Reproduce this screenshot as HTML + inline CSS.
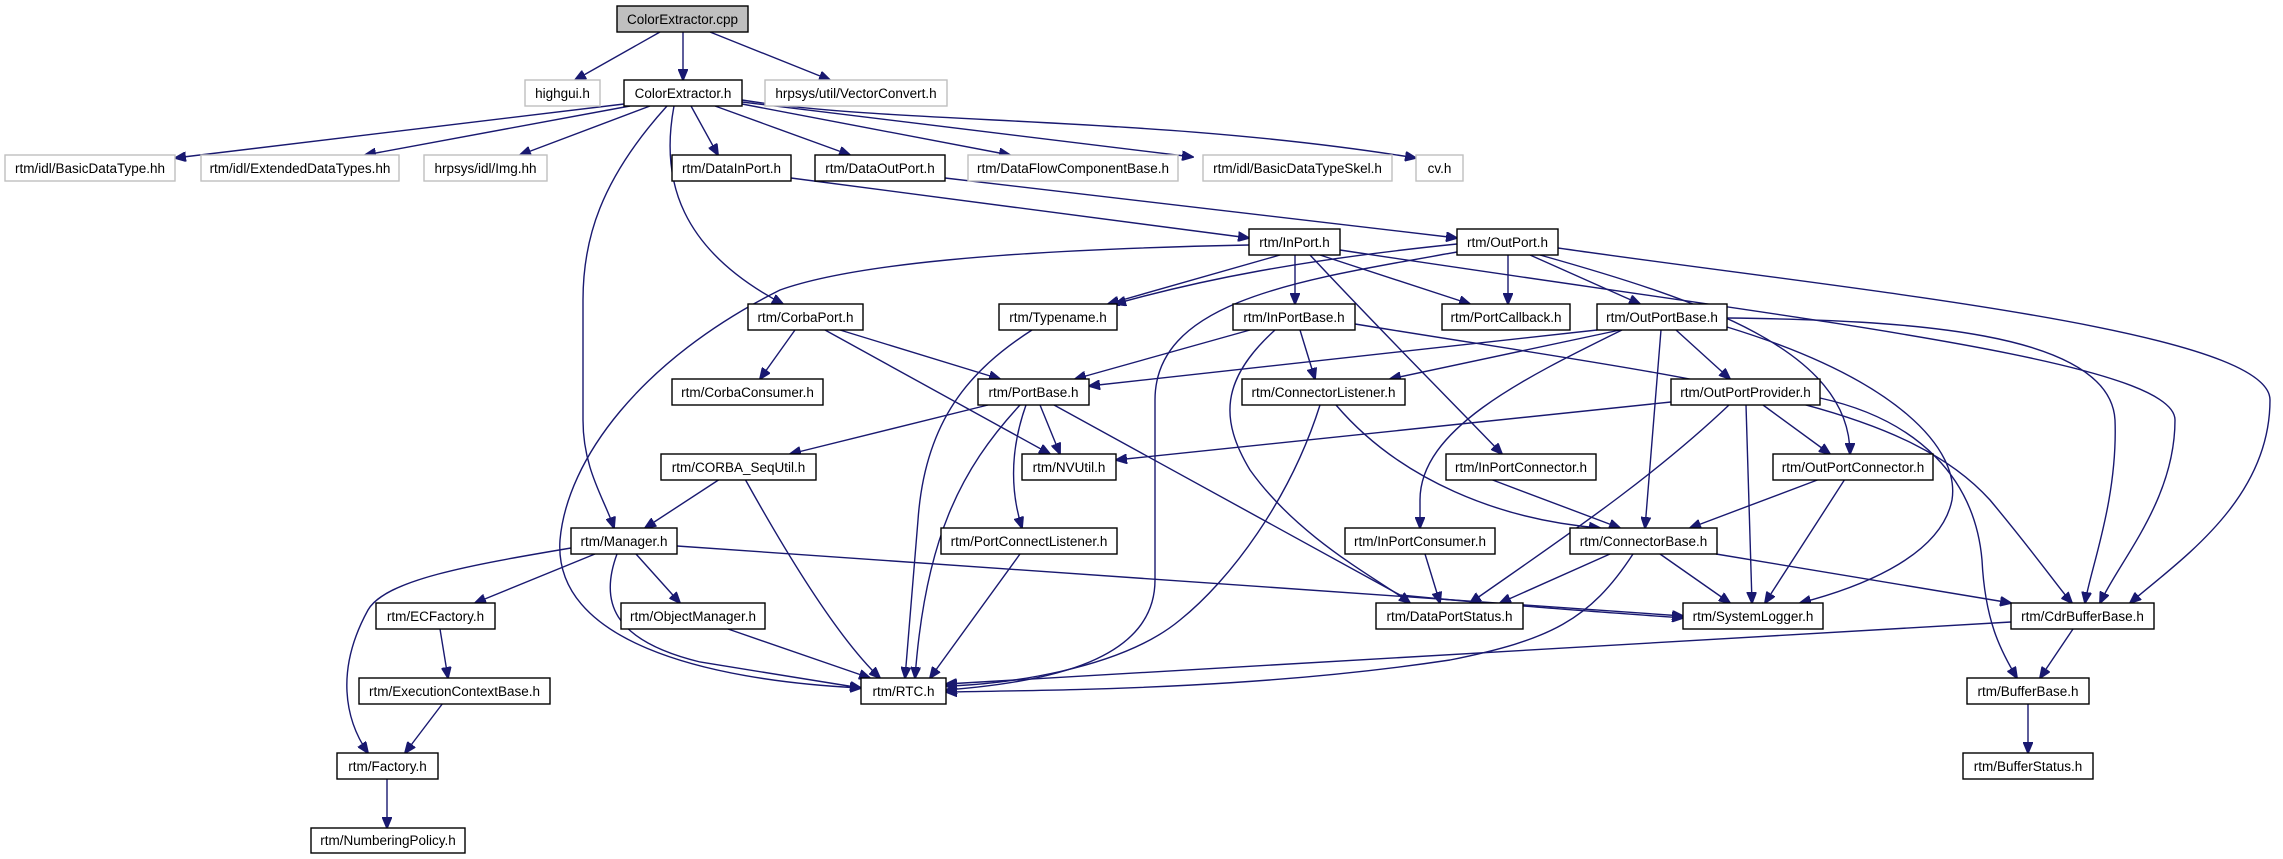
<!DOCTYPE html>
<html><head><meta charset="utf-8"><style>
html,body{margin:0;padding:0;background:#fff;}
svg{display:block;}
text{font-family:"Liberation Sans",Arial,sans-serif;font-size:13.5px;fill:#000;}
.e{fill:none;stroke:#191970;stroke-width:1.4;}
.b{fill:#fff;stroke:#000;stroke-width:1.4;}
.g{fill:#fff;stroke:#bfbfbf;stroke-width:1.4;}
</style></head><body>
<svg width="2283" height="859" viewBox="0 0 2283 859" xmlns="http://www.w3.org/2000/svg">
<defs><marker id="a" markerWidth="12" markerHeight="10" refX="11" refY="5" orient="auto" markerUnits="userSpaceOnUse"><path d="M0,0 L12,5 L0,10 z" fill="#191970" stroke="#191970"/></marker></defs>
<g class="e" marker-end="url(#a)">
<path d="M660,32 L575,80"/>
<path d="M683,32 L683,80"/>
<path d="M710,32 L830,80"/>
<path d="M624,104 L175,158"/>
<path d="M630,106 L365,155"/>
<path d="M650,106 L520,155"/>
<path d="M691,106 L718,155"/>
<path d="M715,106 L850,155"/>
<path d="M742,104 L1010,155"/>
<path d="M742,102 L1193,157"/>
<path d="M742,100 C 900,125 1150,115 1416,158"/>
<path d="M674,106 C 660,180 680,250 783,304"/>
<path d="M667,106 C 600,180 583,240 583,300 L583,420 C583,470 605,500 614,528"/>
<path d="M1249,245 C 1000,250 850,265 780,290 C 640,360 567,460 560,540 C 553,640 700,680 861,688"/>
<path d="M617,554 C 600,600 610,640 700,662 L861,688"/>
<path d="M595,554 L475,603"/>
<path d="M636,554 L680,603"/>
<path d="M571,548 C 470,565 385,580 368,610 C 335,670 345,720 368,753"/>
<path d="M677,546 L1683,616"/>
<path d="M440,629 L448,678"/>
<path d="M443,703 L405,753"/>
<path d="M387,778 L387,828"/>
<path d="M728,629 L870,678"/>
<path d="M791,178 L1249,238"/>
<path d="M945,178 L1457,238"/>
<path d="M1280,255 L1108,304"/>
<path d="M1295,255 L1295,304"/>
<path d="M1320,255 L1470,304"/>
<path d="M1310,255 C 1380,330 1450,400 1502,454"/>
<path d="M1340,250 C 1800,320 2175,360 2175,420 C 2175,500 2120,560 2100,603"/>
<path d="M1457,244 C 1300,260 1200,280 1115,304"/>
<path d="M1457,252 C 1300,280 1155,300 1155,400 L1155,580 C1155,660 1050,682 946,690"/>
<path d="M1508,255 L1508,304"/>
<path d="M1530,255 L1640,304"/>
<path d="M1540,255 C 1700,300 1850,350 1850,454"/>
<path d="M1558,248 C 1850,290 2270,330 2270,400 C 2270,500 2180,560 2130,603"/>
<path d="M1727,318 C 1900,320 2110,330 2115,420 C 2118,500 2090,570 2085,603"/>
<path d="M1355,324 C 1700,380 1900,400 1990,500 C 2040,560 2060,590 2072,603"/>
<path d="M1250,330 L1075,379"/>
<path d="M1300,330 L1315,379"/>
<path d="M1275,330 C 1220,380 1220,420 1250,470 C 1300,540 1380,580 1410,603"/>
<path d="M1597,330 L1089,386"/>
<path d="M1620,330 L1390,379"/>
<path d="M1622,330 C 1520,380 1420,430 1420,500 L1420,528"/>
<path d="M1661,330 L1645,528"/>
<path d="M1676,330 L1730,379"/>
<path d="M1727,327 C 1900,380 1960,450 1952,500 C 1940,560 1850,590 1800,603"/>
<path d="M1671,402 L1116,460"/>
<path d="M1729,405 C 1650,480 1560,540 1470,603"/>
<path d="M1746,405 L1752,603"/>
<path d="M1763,405 L1830,454"/>
<path d="M1820,398 C 1920,420 1975,480 1982,560 C 1985,620 2000,650 2017,678"/>
<path d="M1320,405 C 1290,500 1230,580 1180,620 C 1120,670 1000,685 946,686"/>
<path d="M1336,405 C 1400,480 1500,520 1600,528"/>
<path d="M795,330 L760,379"/>
<path d="M840,330 L1000,379"/>
<path d="M825,330 L1050,454"/>
<path d="M1032,330 C 970,370 925,420 918,520 L905,678"/>
<path d="M988,405 L790,454"/>
<path d="M1040,405 L1060,454"/>
<path d="M1020,405 C 960,470 925,540 915,678"/>
<path d="M1026,405 C 1010,450 1010,490 1022,528"/>
<path d="M1054,405 L1400,595 C 1500,605 1600,612 1683,618"/>
<path d="M720,479 L645,528"/>
<path d="M745,479 C 790,560 840,640 880,678"/>
<path d="M1490,479 L1620,528"/>
<path d="M1820,479 L1690,528"/>
<path d="M1845,479 L1765,603"/>
<path d="M1425,554 L1440,603"/>
<path d="M1020,554 L930,678"/>
<path d="M1610,554 L1500,603"/>
<path d="M1660,554 L1730,603"/>
<path d="M1633,554 C 1590,620 1550,640 1450,660 C 1250,690 1050,690 946,692"/>
<path d="M1716,554 L2011,603"/>
<path d="M2011,622 L946,684"/>
<path d="M2073,629 L2040,678"/>
<path d="M2028,703 L2028,753"/>
</g>
<g>
<rect x="617" y="6" width="131" height="26" fill="#bfbfbf" stroke="#000" stroke-width="1.4"/><text x="682.5" y="24" text-anchor="middle">ColorExtractor.cpp</text>
<rect class="g" x="525" y="80" width="75" height="26"/><text x="562.5" y="98" text-anchor="middle">highgui.h</text>
<rect class="b" x="624" y="80" width="118" height="26"/><text x="683" y="98" text-anchor="middle">ColorExtractor.h</text>
<rect class="g" x="765" y="80" width="182" height="26"/><text x="856" y="98" text-anchor="middle">hrpsys/util/VectorConvert.h</text>
<rect class="g" x="5" y="155" width="170" height="26"/><text x="90" y="173" text-anchor="middle">rtm/idl/BasicDataType.hh</text>
<rect class="g" x="201" y="155" width="198" height="26"/><text x="300" y="173" text-anchor="middle">rtm/idl/ExtendedDataTypes.hh</text>
<rect class="g" x="424" y="155" width="123" height="26"/><text x="485.5" y="173" text-anchor="middle">hrpsys/idl/Img.hh</text>
<rect class="b" x="672" y="155" width="119" height="26"/><text x="731.5" y="173" text-anchor="middle">rtm/DataInPort.h</text>
<rect class="b" x="815" y="155" width="130" height="26"/><text x="880" y="173" text-anchor="middle">rtm/DataOutPort.h</text>
<rect class="g" x="968" y="155" width="210" height="26"/><text x="1073" y="173" text-anchor="middle">rtm/DataFlowComponentBase.h</text>
<rect class="g" x="1203" y="155" width="189" height="26"/><text x="1297.5" y="173" text-anchor="middle">rtm/idl/BasicDataTypeSkel.h</text>
<rect class="g" x="1416" y="155" width="47" height="26"/><text x="1439.5" y="173" text-anchor="middle">cv.h</text>
<rect class="b" x="1249" y="229" width="91" height="26"/><text x="1294.5" y="247" text-anchor="middle">rtm/InPort.h</text>
<rect class="b" x="1457" y="229" width="101" height="26"/><text x="1507.5" y="247" text-anchor="middle">rtm/OutPort.h</text>
<rect class="b" x="748" y="304" width="115" height="26"/><text x="805.5" y="322" text-anchor="middle">rtm/CorbaPort.h</text>
<rect class="b" x="999" y="304" width="118" height="26"/><text x="1058" y="322" text-anchor="middle">rtm/Typename.h</text>
<rect class="b" x="1233" y="304" width="122" height="26"/><text x="1294" y="322" text-anchor="middle">rtm/InPortBase.h</text>
<rect class="b" x="1442" y="304" width="128" height="26"/><text x="1506" y="322" text-anchor="middle">rtm/PortCallback.h</text>
<rect class="b" x="1597" y="304" width="130" height="26"/><text x="1662" y="322" text-anchor="middle">rtm/OutPortBase.h</text>
<rect class="b" x="672" y="379" width="151" height="26"/><text x="747.5" y="397" text-anchor="middle">rtm/CorbaConsumer.h</text>
<rect class="b" x="978" y="379" width="111" height="26"/><text x="1033.5" y="397" text-anchor="middle">rtm/PortBase.h</text>
<rect class="b" x="1242" y="379" width="163" height="26"/><text x="1323.5" y="397" text-anchor="middle">rtm/ConnectorListener.h</text>
<rect class="b" x="1671" y="379" width="149" height="26"/><text x="1745.5" y="397" text-anchor="middle">rtm/OutPortProvider.h</text>
<rect class="b" x="661" y="454" width="155" height="26"/><text x="738.5" y="472" text-anchor="middle">rtm/CORBA_SeqUtil.h</text>
<rect class="b" x="1022" y="454" width="94" height="26"/><text x="1069" y="472" text-anchor="middle">rtm/NVUtil.h</text>
<rect class="b" x="1446" y="454" width="150" height="26"/><text x="1521" y="472" text-anchor="middle">rtm/InPortConnector.h</text>
<rect class="b" x="1773" y="454" width="160" height="26"/><text x="1853" y="472" text-anchor="middle">rtm/OutPortConnector.h</text>
<rect class="b" x="571" y="528" width="106" height="26"/><text x="624" y="546" text-anchor="middle">rtm/Manager.h</text>
<rect class="b" x="941" y="528" width="176" height="26"/><text x="1029" y="546" text-anchor="middle">rtm/PortConnectListener.h</text>
<rect class="b" x="1345" y="528" width="150" height="26"/><text x="1420" y="546" text-anchor="middle">rtm/InPortConsumer.h</text>
<rect class="b" x="1570" y="528" width="147" height="26"/><text x="1643.5" y="546" text-anchor="middle">rtm/ConnectorBase.h</text>
<rect class="b" x="376" y="603" width="119" height="26"/><text x="435.5" y="621" text-anchor="middle">rtm/ECFactory.h</text>
<rect class="b" x="621" y="603" width="144" height="26"/><text x="693" y="621" text-anchor="middle">rtm/ObjectManager.h</text>
<rect class="b" x="1376" y="603" width="147" height="26"/><text x="1449.5" y="621" text-anchor="middle">rtm/DataPortStatus.h</text>
<rect class="b" x="1683" y="603" width="140" height="26"/><text x="1753" y="621" text-anchor="middle">rtm/SystemLogger.h</text>
<rect class="b" x="2011" y="603" width="143" height="26"/><text x="2082.5" y="621" text-anchor="middle">rtm/CdrBufferBase.h</text>
<rect class="b" x="359" y="678" width="191" height="26"/><text x="454.5" y="696" text-anchor="middle">rtm/ExecutionContextBase.h</text>
<rect class="b" x="861" y="678" width="85" height="26"/><text x="903.5" y="696" text-anchor="middle">rtm/RTC.h</text>
<rect class="b" x="1967" y="678" width="122" height="26"/><text x="2028" y="696" text-anchor="middle">rtm/BufferBase.h</text>
<rect class="b" x="337" y="753" width="101" height="26"/><text x="387.5" y="771" text-anchor="middle">rtm/Factory.h</text>
<rect class="b" x="1963" y="753" width="130" height="26"/><text x="2028" y="771" text-anchor="middle">rtm/BufferStatus.h</text>
<rect class="b" x="311" y="828" width="154" height="25"/><text x="388" y="845" text-anchor="middle">rtm/NumberingPolicy.h</text>
</g>
</svg>
</body></html>
